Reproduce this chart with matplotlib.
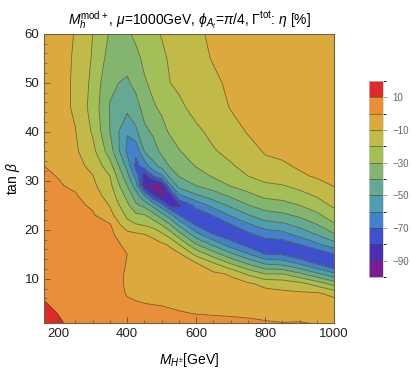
import matplotlib
matplotlib.use("Agg")
import matplotlib.pyplot as plt
from matplotlib.colors import ListedColormap, BoundaryNorm
import numpy as np

plt.rcParams['font.family'] = ['Liberation Sans', 'DejaVu Sans']
plt.rcParams['mathtext.fontset'] = 'custom'
plt.rcParams['mathtext.rm'] = 'Liberation Sans'
plt.rcParams['mathtext.it'] = 'Liberation Sans:italic'

# grid: charged Higgs mass (GeV) x tan(beta), eta in %
mhp = [160, 200, 250, 300, 350, 400, 425, 450, 475, 500, 525, 550,
       600, 650, 700, 750, 800, 850, 900, 950, 1000]
tanb = [1, 3, 5, 7, 9, 11, 13, 15, 17, 19, 21, 23, 25, 27, 29, 31, 33, 36, 40, 45, 50, 55, 60]

# one list per mass column, running up in tan(beta)
eta_cols = [
    [13.5, 12, 10.3, 8.8, 7.9, 7.3, 6.8, 6.4, 6, 5.5, 5, 4.4, 3.8, 3, 2.2, 1.2, 0, -2.5, -4, -5, -5.5, -5.8, -6],
    [10.8, 9.8, 8.5, 7.5, 6.8, 6.3, 5.9, 5.5, 5.1, 4.7, 4.2, 3.6, 3, 2, 0.8, -0.3, -2.5, -4.5, -6, -6.8, -7, -7.3, -7.5],
    [8.2, 7.2, 6.3, 5.6, 5.1, 4.8, 4.5, 4.3, 4, 3.7, 3.3, 2.8, 2, 0.8, -1.6, -5.1, -7, -8.5, -9.7, -11.3, -11.2, -10.8, -10.3],
    [6.2, 5.4, 4.8, 4.3, 3.9, 3.6, 3.4, 3.2, 3, 2.6, 2, 1, -1.3, -5.3, -7.8, -9.7, -12.4, -16.9, -21.2, -24, -22.6, -21, -20],
    [5.8, 5, 4.3, 3.8, 3.4, 3.2, 3, 2.8, 2.5, 2, 1, -6.8, -10.6, -14.3, -17.3, -20, -26, -35, -40, -40.5, -38.5, -34, -31],
    [4.5, 3, 1, -0.5, -1, -0.8, -0.3, 0, -1.5, -6, -16.9, -22, -27.8, -33, -40, -46.7, -53, -62, -59.5, -47, -41.5, -36, -31.5],
    [4.2, 2.5, 0.5, -1.5, -2.3, -2.2, -2, -2.5, -3, -8, -19, -28, -38, -45, -55, -64, -73, -68, -52, -44, -37, -32.5, -28],
    [4, 2, 0, -2, -3, -3.5, -4, -5, -6.5, -9.5, -20.8, -29.2, -43, -60, -88, -86, -66, -49.6, -42.4, -36.1, -31, -28, -25],
    [3.8, 1.8, -0.3, -2, -3, -3.8, -4.3, -4.5, -6, -12.4, -23.7, -36, -53, -80, -96, -70, -53, -45, -38.5, -31, -28, -25, -22],
    [3.5, 1.5, -0.5, -2, -3, -4, -5, -6.5, -8.5, -17.5, -30, -45.8, -66, -92, -90.5, -62, -47, -37.6, -32.9, -28.5, -25.6, -22, -19.5],
    [3.2, 1, -1, -2.5, -3.5, -4.5, -5.7, -7, -11.3, -24.7, -39.2, -56.4, -83, -84, -62, -46, -39, -34.6, -28.8, -25.2, -20, -18.7, -17],
    [3, 0.5, -1.5, -3, -4, -5, -6.5, -8, -20, -35, -51.7, -70, -82, -62, -46.3, -39.5, -35.9, -30.5, -26.6, -21.9, -18.3, -16.5, -15],
    [2.5, -0.3, -2.5, -4, -5, -6.5, -8.5, -22.5, -39.2, -55.8, -71.5, -76.9, -66.9, -51.5, -40, -34.3, -29.5, -26.2, -21.8, -17, -14, -12.2, -11],
    [2, -0.6, -3, -4.5, -6, -8, -17.8, -34.8, -52.2, -69.6, -77.7, -69.4, -56.4, -44.5, -35.4, -28.9, -25.6, -20.8, -17.7, -14.5, -11.3, -9.5, -9],
    [1.5, -0.8, -3.5, -5.5, -7.5, -11, -29.2, -47.3, -65.5, -76.2, -71, -58.9, -48, -38.2, -29.6, -25.3, -21, -17.6, -13.8, -9.5, -8.7, -8.3, -8],
    [1, -1, -4, -6, -8.6, -21.7, -40, -59, -73.6, -72.8, -62, -50.6, -40.5, -32.4, -25.9, -20, -17.3, -13.3, -9.4, -8.3, -7.6, -7.2, -7],
    [0.5, -1.5, -4.5, -7, -12.5, -30, -50, -70, -75.9, -66.7, -54.4, -44, -35.2, -27.8, -21.6, -16.7, -12.2, -9.3, -8.3, -7.6, -7.1, -6.8, -6.5],
    [0.1, -2, -5, -8, -14, -30, -52, -71, -76, -64, -52.5, -42, -33.5, -26.5, -20.5, -15.5, -11, -8.5, -7.7, -7.1, -6.6, -6.1, -6],
    [0.3, -2.2, -5.5, -8.5, -17, -38, -60, -79, -70, -57, -47, -38, -30, -23, -17.5, -11, -9.2, -8, -7.4, -6.9, -6.4, -5.9, -5.5],
    [-0.3, -2.5, -5.5, -8.5, -24, -48, -70, -78, -62, -50, -40.5, -32, -25, -19, -12.5, -9.2, -8.2, -7.7, -7.2, -6.7, -6.2, -5.7, -5.2],
    [-1, -3, -6, -13, -34.4, -57.5, -80.5, -70.7, -54, -41.3, -31.4, -24.5, -18.1, -13.5, -9.7, -8.5, -8, -7.5, -7, -6.5, -6, -5.5, -5],
]

levels = np.arange(-100, 21, 10)
band_colors = ['#7a1c92', '#4a2fb4', '#3f50cf', '#4581cb', '#509cb2', '#66a992',
               '#84b570', '#a4be58', '#c2ba48', '#dca93e', '#e98f39', '#de2a29']
cmap = ListedColormap(band_colors)
norm = BoundaryNorm(levels, cmap.N)

fig = plt.figure(figsize=(4.11, 3.72), dpi=100)
ax = fig.add_axes([0.108, 0.132, 0.705, 0.777])

X, Y = np.meshgrid(mhp, tanb)
Z = np.array(eta_cols).T
cf = ax.contourf(X, Y, Z, levels=levels, cmap=cmap, norm=norm)
cs = ax.contour(X, Y, Z, levels=levels, colors='#4d4a2a', linewidths=0.6,
                alpha=0.7, linestyles='solid')

ax.set_xlim(160, 1000)
ax.set_ylim(1, 60)
ax.set_xticks([200, 400, 600, 800, 1000])
ax.set_xticks(np.arange(200, 1001, 50), minor=True)
ax.set_yticks([10, 20, 30, 40, 50, 60])
ax.set_yticks(np.arange(2, 61, 2), minor=True)
ax.tick_params(which='both', direction='in', color='#555555', labelsize=9.5, labelcolor='#222222')
ax.tick_params(which='major', length=4, width=0.6)
ax.tick_params(which='minor', length=2, width=0.5)
for s in ax.spines.values():
    s.set_color('#6a6440')
    s.set_linewidth(0.8)

ax.set_xlabel(r'$M_{H^{\pm}}$[GeV]', fontsize=10, labelpad=8)
ax.set_ylabel(r'tan $\beta$', fontsize=10, labelpad=2)
ax.set_title(r'$M_h^{\rm mod+}$, $\mu$=1000GeV, $\phi_{A_t}$=$\pi$/4, $\Gamma^{\rm tot}$: $\eta$ [%]',
             fontsize=10, pad=7)

cax = fig.add_axes([0.898, 0.255, 0.034, 0.527])
cbar = fig.colorbar(cf, cax=cax, ticks=[10, -10, -30, -50, -70, -90])
cbar.add_lines(cs)
cbar.ax.set_yticklabels(['10', '\u221210', '\u221230', '\u221250', '\u221270', '\u221290'])
cbar.ax.tick_params(labelsize=7, colors='#777777', length=3, width=0.5, labelcolor='#666666')
cbar.outline.set_edgecolor('#cccccc')
cbar.outline.set_linewidth(0.5)

fig.savefig('out.png', dpi=100)
